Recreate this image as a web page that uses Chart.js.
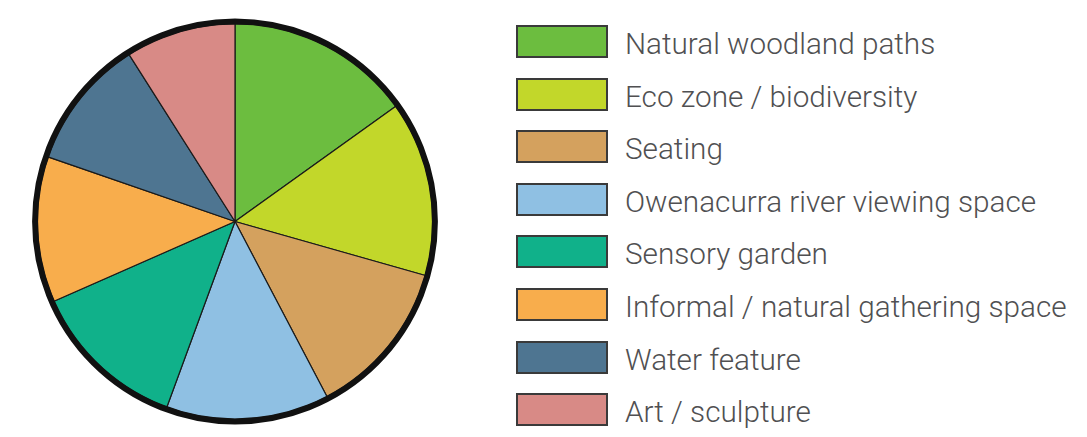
<!DOCTYPE html>
<html>
<head>
<meta charset="utf-8">
<script src="https://cdn.jsdelivr.net/npm/chart.js@4.4.0/dist/chart.umd.min.js"></script>
<style>
  html, body { margin: 0; padding: 0; background: #fff; }
  .wrap { position: relative; width: 1087px; height: 437px; overflow: hidden; }
  #pie { position: absolute; left: 0; top: 0; }
  .legend { position: absolute; left: 516px; top: 25px; margin: 0; padding: 0; list-style: none; }
  .legend li { display: flex; align-items: center; height: 33px; margin-bottom: 19.6px; }
  .legend .box { width: 88px; height: 29px; border: 2px solid #3a3a3a; box-sizing: content-box; flex: none; }
  .legend .txt { margin-left: 17px; font-family: Roboto, sans-serif; font-weight: 300; font-size: 29.7px;
                 color: #505052; white-space: nowrap; position: relative; top: 2px; }
</style>
</head>
<body>
<div class="wrap">
  <canvas id="pie" width="470" height="437"></canvas>
  <ul class="legend"></ul>
</div>
<script>
// slices, clockwise from 12 o'clock (share in %)
const labels = [
  "Natural woodland paths",
  "Eco zone / biodiversity",
  "Seating",
  "Owenacurra river viewing space",
  "Sensory garden",
  "Informal / natural gathering space",
  "Water feature",
  "Art / sculpture",
];
const values = [15.1, 14.3, 12.9, 13.3, 12.8, 11.9, 10.7, 9.0];
const colors = ["#6cbd3f", "#c2d72a", "#d4a15e", "#8fc0e3", "#10b18a", "#f8ad4c", "#4e7591", "#d88a86"];

// thick black rim around the pie
const rim = {
  id: "rim",
  afterDatasetsDraw(chart) {
    const arc = chart.getDatasetMeta(0).data[0];
    if (!arc) return;
    const ctx = chart.ctx;
    ctx.save();
    ctx.beginPath();
    ctx.arc(arc.x, arc.y, arc.outerRadius + 2, 0, Math.PI * 2);
    ctx.lineWidth = 6;
    ctx.strokeStyle = "#111";
    ctx.stroke();
    ctx.restore();
  },
};

new Chart(document.getElementById("pie"), {
  type: "pie",
  data: {
    labels: labels,
    datasets: [{
      data: values,
      backgroundColor: colors,
      borderColor: "#1a1a1a",
      borderWidth: 1.2,
    }],
  },
  options: {
    responsive: false,
    animation: false,
    layout: { padding: { left: 0, right: 0, top: 23, bottom: 17 } },
    plugins: {
      tooltip: { enabled: false },
      legend: { display: false },
    },
  },
  plugins: [rim],
});

// legend list built from the same arrays
const ul = document.querySelector(".legend");
labels.forEach((l, i) => {
  const li = document.createElement("li");
  li.innerHTML = `<span class="box" style="background:${colors[i]}"></span><span class="txt">${l}</span>`;
  ul.appendChild(li);
});
</script>
</body>
</html>
